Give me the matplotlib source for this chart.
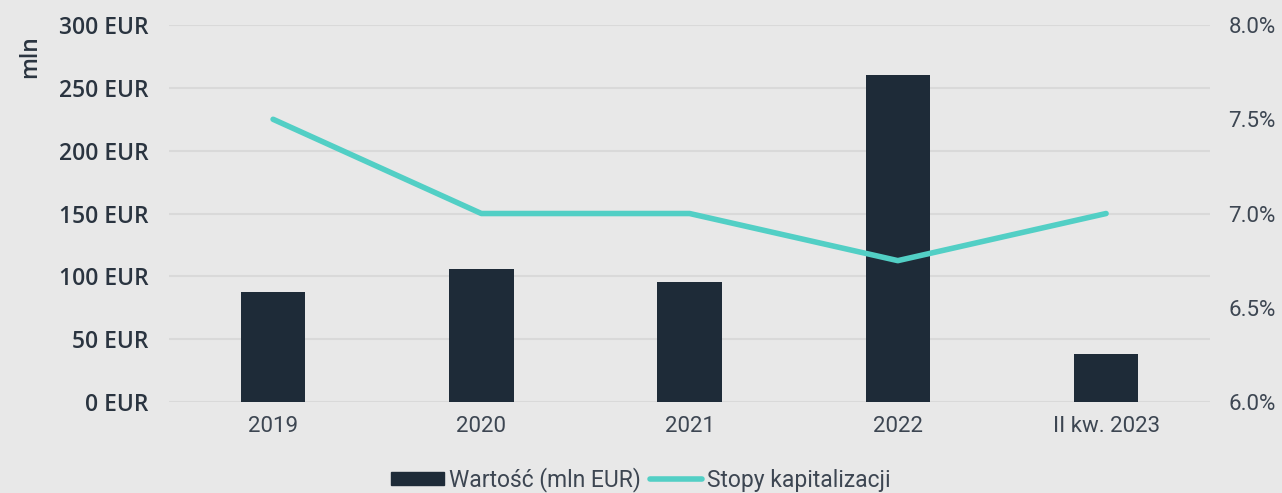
import matplotlib.pyplot as plt
import numpy as np
from matplotlib.patches import Patch
from matplotlib.lines import Line2D

categories = ["2019", "2020", "2021", "2022", "II kw. 2023"]
wartosc = [87.5, 106, 95.5, 260, 38]
stopy = [7.5, 7.0, 7.0, 6.75, 7.0]

bg = "#e8e8e8"
bar_col = "#1e2b38"
line_col = "#52cfc5"
txt = "#2a3440"
txt2 = "#3d4652"

fig = plt.figure(figsize=(12.82, 4.93), dpi=100, facecolor=bg)
ax = fig.add_axes([0.1318, 0.1846, 0.8122, 0.7646])
ax.set_facecolor(bg)
x = np.arange(len(categories))
ax.bar(x, wartosc, width=0.31, color=bar_col, zorder=3)
ax.set_xlim(-0.5, 4.5)
ax.set_ylim(0, 300)
ax.set_yticks(range(0, 301, 50))
ax.set_yticklabels([f"{v} EUR" for v in range(0, 301, 50)],
                   fontsize=16.5, color=txt, fontweight="semibold", family="Open Sans")
ax.grid(axis="y", color="#d9d9d9", linewidth=1.5, zorder=0)
ax.set_xticks(x)
ax.set_xticklabels(categories, fontsize=16, color=txt2, family="Roboto")
ax.tick_params(length=0, pad=10)
ax.tick_params(axis="y", pad=15)
for s in ax.spines.values():
    s.set_visible(False)
ax.set_ylabel("mln", fontsize=16.5, color=txt, fontweight="semibold", family="Open Sans")
ax.yaxis.set_label_coords(-0.122, 0.915)

ax2 = ax.twinx()
ax2.plot(x, stopy, color=line_col, linewidth=4, solid_capstyle="round", zorder=4)
ax2.set_ylim(6.0, 8.0)
ax2.set_yticks([6.0, 6.5, 7.0, 7.5, 8.0])
ax2.set_yticklabels([f"{v:.1f}%" for v in [6.0, 6.5, 7.0, 7.5, 8.0]],
                    fontsize=16, color=txt2, family="Roboto")
ax2.tick_params(length=0, pad=13)
for s in ax2.spines.values():
    s.set_visible(False)

handles = [Patch(color=bar_col, label="Wartość (mln EUR)"),
           Line2D([0], [0], color=line_col, linewidth=4, solid_capstyle="round",
                  label="Stopy kapitalizacji")]
leg = fig.legend(handles=handles, loc="lower center", ncol=2, frameon=False,
                 bbox_to_anchor=(0.5, -0.04), handlelength=2.3,
                 handleheight=0.55, handletextpad=0.2, columnspacing=0.4,
                 prop={"family": "Roboto", "size": 16.5})
for t in leg.get_texts():
    t.set_color(txt2)

fig.savefig("out.png", dpi=100, facecolor=bg)
